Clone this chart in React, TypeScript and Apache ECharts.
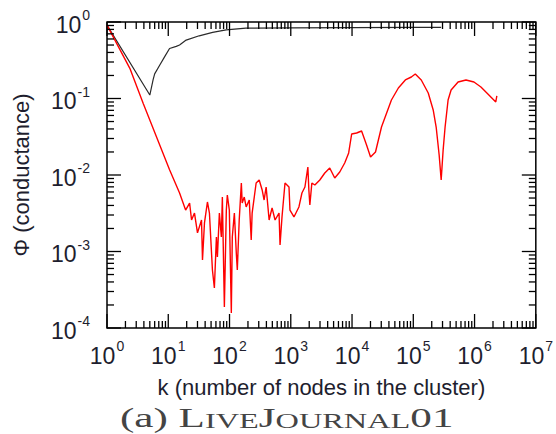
import React, { useEffect, useRef } from "react";
import * as echarts from "echarts";

// Black curve (upper envelope)
const blackK = [1, 5.0, 5.65, 6.0, 7.2, 8.7, 10.5, 13.5, 15.3, 19.6, 32, 53, 88, 185, 1000, 10000, 100000, 285000];
const blackPhi = [0.91, 0.111, 0.175, 0.21, 0.27, 0.35, 0.45, 0.48, 0.5, 0.58, 0.66, 0.73, 0.79, 0.83, 0.84, 0.845, 0.85, 0.85];

// Red curve (network community profile)
const redK = [
  1, 2.36, 3.89, 10.5, 15.3, 19.2, 22.3, 24.0, 26.8, 30.0, 34.9, 36.2, 39.0, 43.6, 47.0, 52.6, 56.6, 61.1, 63.4, 68.3,
  73.6, 76.4, 82.4, 88.7, 92.1, 99.3, 107, 111, 120, 129, 134, 144, 156, 161, 174, 187, 210, 226, 234, 272,
  305, 341, 367, 396, 443, 495, 554, 643, 668, 719, 805, 935, 970, 1127, 1358, 1521, 1702, 1901, 1973, 2049,
  2208, 2471, 2979, 3589, 4325, 5220, 6300, 7590, 8810, 9860, 11880, 14320, 17260, 20050, 24160, 30260, 43950, 57040, 74130, 92900,
  107700, 134900, 175400, 211300, 236200, 264300, 285100, 307000, 330400, 369800, 414000, 538000, 724800, 977200, 1270000, 1650000, 2220000, 2310000,
];
const redPhi = [
  0.91, 0.248, 0.0865, 0.0117, 0.0058, 0.00348, 0.0043, 0.00258, 0.00318, 0.00175, 0.00258, 0.000774, 0.00236, 0.00444, 0.00318, 0.000573, 0.000333, 0.00155, 0.000847, 0.00318,
  0.00155, 0.00515, 0.000188, 0.00348, 0.00548, 0.00348, 0.000157, 0.00155, 0.00318, 0.000955, 0.000573, 0.00258, 0.00786, 0.0043, 0.00515, 0.00382, 0.00471, 0.00141, 0.00318, 0.00786,
  0.00861, 0.00637, 0.00471, 0.00697, 0.00258, 0.00371, 0.00258, 0.00318, 0.00122, 0.00283, 0.00786, 0.00697, 0.00348, 0.00283, 0.00382, 0.00582, 0.00697, 0.01273, 0.00637, 0.00405,
  0.00786, 0.0074, 0.00861, 0.01062, 0.01235, 0.00914, 0.01094, 0.01435, 0.0194, 0.03436, 0.0354, 0.03758, 0.02466, 0.01718, 0.01999, 0.04238, 0.0956, 0.1372, 0.1746, 0.191,
  0.209, 0.1746, 0.118, 0.0708, 0.04238, 0.01825, 0.00861, 0.02122, 0.04238, 0.0956, 0.1291, 0.1643, 0.1746, 0.1643, 0.1413, 0.1145, 0.09, 0.1079,
];

// Axis decades (tick labels are 10^exponent)
const xDecades = [0, 1, 2, 3, 4, 5, 6, 7];
const yDecades = [-4, -3, -2, -1, 0];
const minorMultipliers = [2, 3, 4, 5, 6, 7, 8, 9];

const X_MIN = 1;
const X_MAX = 1e7;
const Y_MIN = 1e-4;
const Y_MAX = 1;

function buildTicks(decades: number[]) {
  const out: number[][] = [];
  decades.forEach((d, i) => {
    const base = Math.pow(10, d);
    out.push([base, 1]);
    if (i < decades.length - 1) {
      minorMultipliers.forEach((m) => out.push([parseFloat((m * base).toPrecision(6)), 0]));
    }
  });
  return out;
}

const SANS = "'Liberation Sans', Arial, Helvetica, sans-serif";
const SERIF = "'Liberation Serif', 'Times New Roman', serif";
const TEXT = "#1e1e2e";

const powLabel = (v: number) => {
  const e = Math.round(Math.log10(v));
  return `{b|10}{s|${e}}`;
};

const labelRich = {
  b: { fontSize: 23, fontFamily: SANS, color: TEXT, lineHeight: 28, verticalAlign: "bottom" },
  s: { fontSize: 14, fontFamily: SANS, color: TEXT, verticalAlign: "top", padding: [0, 0, 0, 1] },
};

const MAJOR = 14;
const MINOR = 7;

export default function App() {
  const ref = useRef<HTMLDivElement>(null);
  useEffect(() => {
    if (!ref.current) return;
    const chart = echarts.init(ref.current, undefined, { renderer: "svg" });
    const xTicks = buildTicks(xDecades).map((t) => [t[0], Y_MAX, t[1]]);
    const yTicks = buildTicks(yDecades).map((t) => [X_MIN, t[0], t[1]]);
    const tickStyle = { stroke: "#000", lineWidth: 1.3 };

    const option: any = {
      animation: false,
      backgroundColor: "#fff",
      grid: {
        left: 107,
        right: 18,
        top: 22,
        bottom: 106,
        show: true,
        borderColor: "#000",
        borderWidth: 1.5,
        backgroundColor: "transparent",
      },
      xAxis: {
        type: "log",
        logBase: 10,
        min: X_MIN,
        max: X_MAX,
        interval: 1,
        splitNumber: 7,
        axisLine: { show: false },
        axisTick: { show: false },
        splitLine: { show: false },
        axisLabel: { formatter: powLabel, rich: labelRich, margin: 11 },
        name: "k (number of nodes in the cluster)",
        nameLocation: "middle",
        nameGap: 48,
        nameTextStyle: { fontSize: 22, fontFamily: SANS, color: TEXT },
      },
      yAxis: {
        type: "log",
        logBase: 10,
        min: Y_MIN,
        max: Y_MAX,
        interval: 1,
        splitNumber: 4,
        axisLine: { show: false },
        axisTick: { show: false },
        splitLine: { show: false },
        axisLabel: { formatter: powLabel, rich: labelRich, margin: 17 },
        name: "\u03A6 (conductance)",
        nameLocation: "middle",
        nameGap: 75,
        nameTextStyle: { fontSize: 22, fontFamily: SANS, color: TEXT },
      },
      graphic: [
        {
          type: "text",
          x: 120,
          y: 404,
          scaleX: 1.54,
          style: {
            text: "{a|(a) L}{b|IVE}{a|J}{b|OURNAL}{a|01}",
            rich: {
              a: { fontSize: 28, fontFamily: SERIF, fontWeight: "normal", fill: "#444", stroke: "none", lineWidth: 0, verticalAlign: "bottom" },
              b: { fontSize: 21, fontFamily: SERIF, fontWeight: "normal", fill: "#444", stroke: "none", lineWidth: 0, verticalAlign: "bottom" },
            },
            fontWeight: "normal",
            fill: "#444",
            stroke: "none",
            lineWidth: 0,
          },
        },
      ],
      series: [
        {
          type: "line",
          name: "upper",
          data: blackK.map((k, i) => [k, blackPhi[i]]),
          showSymbol: false,
          symbol: "none",
          lineStyle: { color: "#2a2a2a", width: 1.2 },
          z: 2,
        },
        {
          type: "line",
          name: "ncp",
          data: redK.map((k, i) => [k, redPhi[i]]),
          showSymbol: false,
          symbol: "none",
          lineStyle: { color: "#ff0000", width: 1.4 },
          z: 3,
        },
        {
          type: "custom",
          name: "xticks",
          data: xTicks,
          encode: { x: 0, y: 1 },
          silent: true,
          z: 4,
          renderItem: (_p: any, api: any) => {
            const v = api.value(0);
            const len = api.value(2) ? MAJOR : MINOR;
            const b = api.coord([v, Y_MIN]);
            const t = api.coord([v, Y_MAX]);
            return {
              type: "group",
              children: [
                { type: "line", shape: { x1: b[0], y1: b[1], x2: b[0], y2: b[1] - len }, style: tickStyle },
                { type: "line", shape: { x1: t[0], y1: t[1], x2: t[0], y2: t[1] + len }, style: tickStyle },
              ],
            };
          },
        },
        {
          type: "custom",
          name: "yticks",
          data: yTicks,
          encode: { x: 0, y: 1 },
          silent: true,
          z: 4,
          renderItem: (_p: any, api: any) => {
            const v = api.value(1);
            const len = api.value(2) ? MAJOR : MINOR;
            const l = api.coord([X_MIN, v]);
            const r = api.coord([X_MAX, v]);
            return {
              type: "group",
              children: [
                { type: "line", shape: { x1: l[0], y1: l[1], x2: l[0] + len, y2: l[1] }, style: tickStyle },
                { type: "line", shape: { x1: r[0], y1: r[1], x2: r[0] - len, y2: r[1] }, style: tickStyle },
              ],
            };
          },
        },
      ],
    };
    chart.setOption(option);
    return () => chart.dispose();
  }, []);
  return (
    <div
      ref={ref}
      style={{ position: "fixed", left: 0, top: 0, width: 556, height: 434, background: "#fff" }}
    />
  );
}
